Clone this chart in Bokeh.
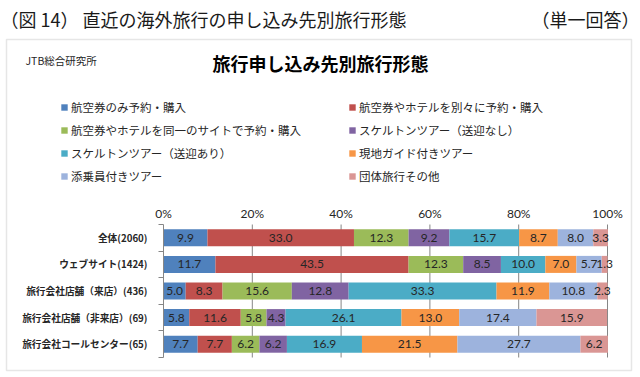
from bokeh.plotting import figure
from bokeh.models import (ColumnDataSource, Range1d, FixedTicker, LinearAxis, Label, LabelSet,
                          Legend, LegendItem, BoxAnnotation, PrintfTickFormatter)
from bokeh.core.properties import value
from bokeh.embed import file_html
from bokeh.resources import INLINE

# ---------------- data ----------------
categories = ["全体(2060)", "ウェブサイト(1424)", "旅行会社店舗（来店）(436)",
              "旅行会社店舗（非来店）(69)", "旅行会社コールセンター(65)"]
series_names = ["航空券のみ予約・購入", "航空券やホテルを別々に予約・購入",
                "航空券やホテルを同一のサイトで予約・購入", "スケルトンツアー（送迎なし）",
                "スケルトンツアー（送迎あり）", "現地ガイド付きツアー",
                "添乗員付きツアー", "団体旅行その他"]
air_only = [9.9, 11.7, 5.0, 5.8, 7.7]
air_hotel_separate = [33.0, 43.5, 8.3, 11.6, 7.7]
air_hotel_same_site = [12.3, 12.3, 15.6, 5.8, 6.2]
skeleton_no_transfer = [9.2, 8.5, 12.8, 4.3, 6.2]
skeleton_transfer = [15.7, 10.0, 33.3, 26.1, 16.9]
local_guide = [8.7, 7.0, 11.9, 13.0, 21.5]
escorted = [8.0, 5.7, 10.8, 17.4, 27.7]
group_other = [3.3, 1.3, 2.3, 15.9, 6.2]
x_ticks = [0, 20, 40, 60, 80, 100]

series_values = [air_only, air_hotel_separate, air_hotel_same_site, skeleton_no_transfer,
                 skeleton_transfer, local_guide, escorted, group_other]
colors = ["#4F81BD", "#C0504D", "#9BBB59", "#8064A2",
          "#4BACC6", "#F79646", "#9DB3DD", "#DA9694"]

JP = "Noto Sans CJK JP"
NUM = "Lato"

# ---------------- layout (pixels inside the canvas) ----------------
W, H = 640, 377
BAR_L, BAR_R = 163, 607      # x pixel of 0% and 100%
BAR_T, BAR_B = 224, 357      # y pixel (from top) of top and bottom of the bar area

n = len(categories)
ypos = [n - i for i in range(n)]            # top row first
x_span = x_ticks[-1] - x_ticks[0]
px_x = (BAR_R - BAR_L) / x_span
px_y = (BAR_B - BAR_T) / n
x_range = Range1d(x_ticks[0] - BAR_L / px_x, x_ticks[-1] + (W - BAR_R) / px_x)
y_range = Range1d(0.5 - (H - BAR_B) / px_y, n + 0.5 + BAR_T / px_y)


def px2x(px):
    return x_ticks[0] + (px - BAR_L) / px_x


def px2y(py):
    return 0.5 + (BAR_B - py) / px_y


keys = ["s%d" % k for k in range(len(series_values))]
data = {"y": ypos}
for k, vals in zip(keys, series_values):
    data[k] = vals
src = ColumnDataSource(data)

p = figure(width=W, height=H, output_backend="svg", toolbar_location=None,
           x_range=x_range, y_range=y_range, x_axis_type=None, y_axis_type=None,
           min_border=0)
p.title.visible = False
p.outline_line_color = None
p.background_fill_color = "white"
p.border_fill_color = "white"
p.xgrid.visible = False
p.ygrid.visible = False

# surrounding box
p.add_layout(BoxAnnotation(left=px2x(6), right=px2x(631), top=px2y(39), bottom=px2y(370),
                           fill_alpha=0, fill_color=None, line_color="#ADADAD",
                           line_width=1.5, level="underlay"))

# grid lines (vertical, bar area only)
p.segment(x0=x_ticks[1:], x1=x_ticks[1:], y0=[0.5] * (len(x_ticks) - 1),
          y1=[n + 0.5] * (len(x_ticks) - 1), line_color="#868686", line_width=1)

renderers = p.hbar_stack(keys, y="y", height=0.64, color=colors, line_color=None, source=src)

# value labels
lx, ly, lt = [], [], []
for i in range(n):
    left = 0.0
    for vals in series_values:
        v = vals[i]
        lx.append(left + v / 2.0)
        ly.append(ypos[i])
        lt.append("%.1f" % v)
        left += v
lab_src = ColumnDataSource(dict(x=lx, y=ly, t=lt))
p.add_layout(LabelSet(x="x", y="y", text="t", source=lab_src, text_align="center",
                      text_baseline="middle", text_font=value(NUM), text_font_size="12px",
                      text_color="#262626"))

# axes
xa = LinearAxis(fixed_location=n + 0.5, bounds=(x_ticks[0], x_ticks[-1]))
xa.ticker = FixedTicker(ticks=x_ticks)
xa.formatter = PrintfTickFormatter(format="%d%%")
xa.axis_line_color = None
xa.major_tick_line_color = None
xa.major_tick_out = 0
xa.major_tick_in = 0
xa.minor_tick_line_color = None
xa.major_label_text_font = NUM
xa.major_label_text_font_size = "12px"
xa.major_label_text_color = "#262626"
xa.major_label_standoff = 4
p.add_layout(xa, "above")

ya = LinearAxis(fixed_location=x_ticks[0], bounds=(0.5, n + 0.5))
ya.ticker = FixedTicker(ticks=ypos, minor_ticks=[y + 0.5 for y in ypos] + [0.5])
ya.major_label_overrides = {y: c for y, c in zip(ypos, categories)}
ya.axis_line_color = "#868686"
ya.major_tick_line_color = None
ya.major_tick_out = 0
ya.major_tick_in = 0
ya.minor_tick_line_color = "#868686"
ya.minor_tick_out = 5
ya.minor_tick_in = 0
ya.major_label_text_font = JP
ya.major_label_text_font_size = "9.7px"
ya.major_label_text_font_style = "bold"
ya.major_label_text_color = "#262626"
ya.major_label_standoff = 11
p.add_layout(ya, "left")


# legends (two columns); location = bottom-left corner in screen px from the bottom
def make_legend(idx, loc):
    items = [LegendItem(label=series_names[k], renderers=[renderers[k]]) for k in idx]
    return Legend(items=items, location=loc, orientation="vertical",
                  glyph_width=8, glyph_height=8, label_standoff=3,
                  label_text_font=JP, label_text_font_size="11.5px",
                  label_text_color="#262626", label_height=14, spacing=7,
                  padding=0, margin=0, border_line_color=None,
                  background_fill_alpha=0)


p.add_layout(make_legend([0, 2, 4, 6], (60, H - 184)))
p.add_layout(make_legend([1, 3, 5, 7], (348, H - 184)))

# texts (screen units measured from the bottom-left)
p.add_layout(Label(x=0, y=H - 18, x_units="screen", y_units="screen",
                   text="（図 14） 直近の海外旅行の申し込み先別旅行形態",
                   text_font=JP, text_font_size="18px", text_baseline="middle",
                   text_color="#1a1a1a"))
p.add_layout(Label(x=639, y=H - 18, x_units="screen", y_units="screen",
                   text="（単一回答）", text_font=JP, text_font_size="18px",
                   text_baseline="middle", text_align="right", text_color="#1a1a1a"))
p.add_layout(Label(x=320, y=H - 62, x_units="screen", y_units="screen",
                   text="旅行申し込み先別旅行形態", text_font=JP, text_font_size="18px",
                   text_font_style="bold", text_baseline="middle", text_align="center",
                   text_color="#000000"))
p.add_layout(Label(x=25, y=H - 60, x_units="screen", y_units="screen",
                   text="JTB総合研究所", text_font=JP, text_font_size="10.5px",
                   text_baseline="middle", text_color="#262626"))

open("out.html", "w").write(file_html(p, INLINE))
